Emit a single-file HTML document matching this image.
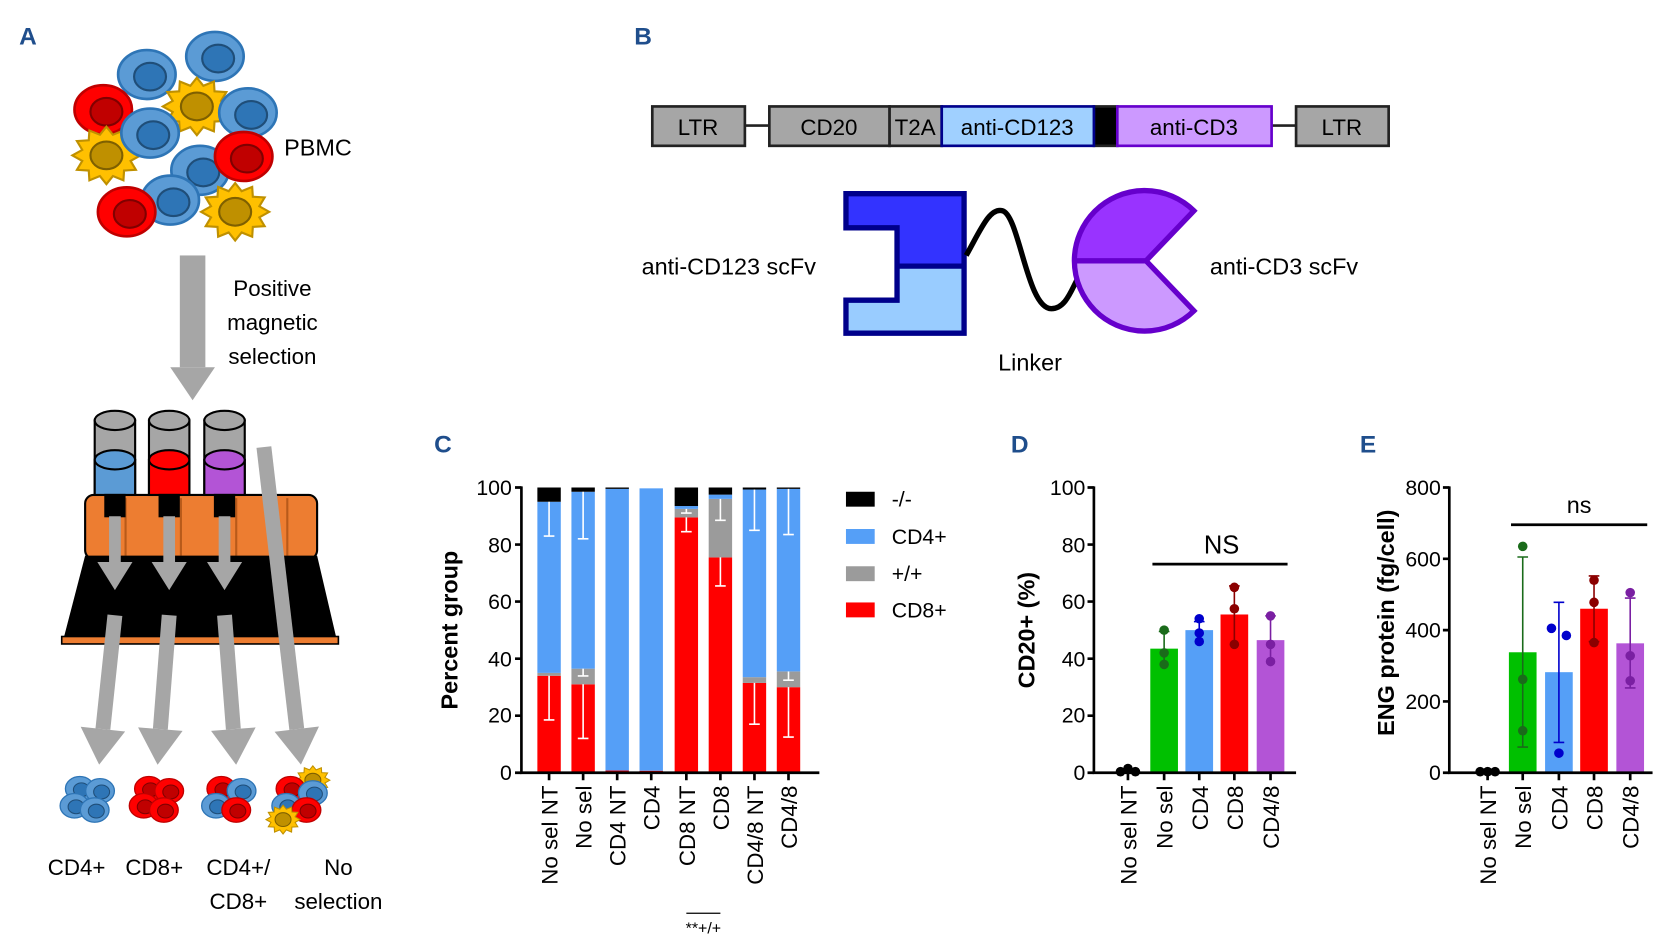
<!DOCTYPE html>
<html><head><meta charset="utf-8"><style>
html,body{margin:0;padding:0;background:#fff;}
svg{display:block;}
text{font-family:"Liberation Sans",Arial,sans-serif;}
</style></head><body>
<svg width="1660" height="942" viewBox="0 0 1560 885" preserveAspectRatio="none" xmlns="http://www.w3.org/2000/svg">
<defs>
<marker id="ah" viewBox="0 0 8 10" refX="0" refY="5" markerWidth="2.5" markerHeight="3" orient="auto"><path d="M0,0 L8,5 L0,10 z" fill="#a6a6a6"/></marker>
<g id="bc"><ellipse cx="0" cy="0" rx="27" ry="23" fill="#5b9bd5" stroke="#2e75b6" stroke-width="2.5"/><ellipse cx="3" cy="2" rx="15" ry="13" fill="#2e75b6" stroke="#1f4e79" stroke-width="2"/></g>
<g id="rc"><ellipse cx="0" cy="0" rx="27" ry="23" fill="#ff0000" stroke="#c00000" stroke-width="2.5"/><ellipse cx="3" cy="2" rx="15" ry="13" fill="#c00000" stroke="#800000" stroke-width="2"/></g>
<g id="st"><polygon points="32,0 22.7,5.2 27.7,13.5 16.6,14.2 16,23.4 6.1,19.4 0,27 -6.1,19.4 -16,23.4 -16.6,14.2 -27.7,13.5 -22.7,5.2 -32,0 -22.7,-5.2 -27.7,-13.5 -16.6,-14.2 -16,-23.4 -6.1,-19.4 0,-27 6.1,-19.4 16,-23.4 16.6,-14.2 27.7,-13.5 22.7,-5.2" fill="#ffc000" stroke="#bf9000" stroke-width="2"/><ellipse cx="0" cy="0" rx="15" ry="13" fill="#bf9000" stroke="#7f6000" stroke-width="2"/></g>
</defs>

<!-- Panel letters -->
<g font-weight="bold" font-size="23" fill="#1f4e8c">
<text x="18" y="42">A</text><text x="596" y="42">B</text><text x="408" y="425">C</text><text x="950" y="425">D</text><text x="1278" y="425">E</text>
</g>

<!-- A: PBMC -->
<use href="#bc" x="138" y="70"/><use href="#bc" x="202" y="53"/>
<use href="#st" x="185" y="100"/>
<use href="#rc" x="97" y="103"/>
<use href="#bc" x="233" y="106"/>
<use href="#st" x="100" y="146"/>
<use href="#bc" x="141" y="125"/>
<use href="#bc" x="188" y="160"/>
<use href="#rc" x="229" y="147"/>
<use href="#bc" x="160" y="188"/>
<use href="#rc" x="119" y="199"/>
<use href="#st" x="221" y="199"/>
<text x="267" y="146" font-size="22">PBMC</text>
<rect x="169" y="240" width="24" height="105" fill="#a6a6a6"/>
<polygon points="160,345 202,345 181,376" fill="#a6a6a6"/>
<g font-size="21" text-anchor="middle"><text x="256" y="278">Positive</text><text x="256" y="310">magnetic</text><text x="256" y="342">selection</text></g>

<!-- Rack -->
<rect x="80" y="465" width="218" height="60" rx="8" fill="#ed7d31" stroke="#000" stroke-width="2"/>
<g stroke="#b85a1a" stroke-width="2"><line x1="118" y1="468" x2="118" y2="522"/><line x1="170" y1="468" x2="170" y2="522"/><line x1="222" y1="468" x2="222" y2="522"/><line x1="270" y1="468" x2="270" y2="522"/></g>
<polygon points="80,522 298,522 316,599 60,599" fill="#000"/>
<rect x="58" y="598" width="260" height="7" fill="#ed7d31" stroke="#000" stroke-width="1.5"/>
<g stroke="#000" stroke-width="2">
<rect x="89" y="395" width="38" height="70" fill="#a6a6a6"/><ellipse cx="108" cy="395" rx="19" ry="9" fill="#a6a6a6"/><rect x="89" y="432" width="38" height="33" fill="#5b9bd5"/><ellipse cx="108" cy="432" rx="19" ry="9" fill="#5b9bd5"/><rect x="99" y="465" width="18" height="20" fill="#000"/>
<rect x="140" y="395" width="38" height="70" fill="#a6a6a6"/><ellipse cx="159" cy="395" rx="19" ry="9" fill="#a6a6a6"/><rect x="140" y="432" width="38" height="33" fill="#ff0000"/><ellipse cx="159" cy="432" rx="19" ry="9" fill="#ff0000"/><rect x="150" y="465" width="18" height="20" fill="#000"/>
<rect x="192" y="395" width="38" height="70" fill="#a6a6a6"/><ellipse cx="211" cy="395" rx="19" ry="9" fill="#a6a6a6"/><rect x="192" y="432" width="38" height="33" fill="#b354d6"/><ellipse cx="211" cy="432" rx="19" ry="9" fill="#b354d6"/><rect x="202" y="465" width="18" height="20" fill="#000"/>
</g>
<g stroke="#a6a6a6" stroke-width="11" marker-end="url(#ah)">
<line x1="108" y1="485" x2="108" y2="528"/><line x1="159" y1="485" x2="159" y2="528"/><line x1="211" y1="485" x2="211" y2="528"/>
</g>
<g stroke="#a6a6a6" stroke-width="14" marker-end="url(#ah)">
<line x1="108" y1="578" x2="96.7" y2="685"/><line x1="159" y1="578" x2="150.7" y2="685"/><line x1="211" y1="578" x2="219.3" y2="685"/><line x1="248" y1="420" x2="278.9" y2="685"/>
</g>
<g transform="translate(85,750) scale(0.5)"><use href="#bc" x="-20" y="-18"/><use href="#bc" x="18" y="-14"/><use href="#bc" x="-30" y="14"/><use href="#bc" x="8" y="22"/></g>
<g transform="translate(150,750) scale(0.5)"><use href="#rc" x="-20" y="-18"/><use href="#rc" x="18" y="-14"/><use href="#rc" x="-30" y="14"/><use href="#rc" x="8" y="22"/></g>
<g transform="translate(218,750) scale(0.5)"><use href="#rc" x="-20" y="-18"/><use href="#bc" x="18" y="-14"/><use href="#bc" x="-30" y="14"/><use href="#rc" x="8" y="22"/></g>
<g transform="translate(283,750) scale(0.5)"><use href="#st" x="22" y="-34"/><use href="#rc" x="-20" y="-18"/><use href="#bc" x="22" y="-10"/><use href="#bc" x="-28" y="14"/><use href="#rc" x="10" y="22"/><use href="#st" x="-34" y="40"/></g>
<g font-size="21" text-anchor="middle"><text x="72" y="822">CD4+</text><text x="145" y="822">CD8+</text><text x="224" y="822">CD4+/</text><text x="224" y="854">CD8+</text><text x="318" y="822">No</text><text x="318" y="854">selection</text></g>

<!-- B: construct -->
<g stroke="#222" stroke-width="2.5">
<line x1="700" y1="118" x2="723" y2="118"/><line x1="1195" y1="118" x2="1218" y2="118"/>
<rect x="613" y="100" width="87" height="37" fill="#a6a6a6"/>
<rect x="723" y="100" width="113" height="37" fill="#a6a6a6"/>
<rect x="836" y="100" width="49" height="37" fill="#a6a6a6"/>
<rect x="1218" y="100" width="87" height="37" fill="#a6a6a6"/>
<rect x="1028" y="100" width="22" height="37" fill="#000"/>
</g>
<rect x="885" y="100" width="143" height="37" fill="#a0d0ff" stroke="#00008b" stroke-width="2.5"/>
<rect x="1050" y="100" width="145" height="37" fill="#cc99ff" stroke="#6600cc" stroke-width="2.5"/>
<g font-size="21" text-anchor="middle"><text x="656" y="127">LTR</text><text x="779" y="127">CD20</text><text x="860" y="127">T2A</text><text x="956" y="127">anti-CD123</text><text x="1122" y="127">anti-CD3</text><text x="1261" y="127">LTR</text></g>
<polygon points="795,182 906,182 906,250 843,250 843,214 795,214" fill="#3333ff"/>
<polygon points="843,250 906,250 906,313 795,313 795,282 843,282" fill="#99ccff"/>
<polygon points="795,182 906,182 906,313 795,313 795,282 843,282 843,214 795,214" fill="none" stroke="#00008b" stroke-width="5"/>
<line x1="843" y1="250" x2="906" y2="250" stroke="#00008b" stroke-width="5"/>
<path d="M908,240 C922,215 930,195 942,198 C958,202 965,290 988,290 C1003,290 1008,268 1015,258" fill="none" stroke="#000" stroke-width="5"/>
<path d="M1077,245 L1011,245 A66,66 0 0 1 1122,198 Z" fill="#9933ff"/>
<path d="M1077,245 L1011,245 A66,66 0 0 0 1122,292 Z" fill="#cc99ff"/>
<path d="M1077,245 L1122,198 A66,66 0 1 0 1122,292 Z" fill="none" stroke="#6600cc" stroke-width="5"/>
<line x1="1011" y1="245" x2="1077" y2="245" stroke="#6600cc" stroke-width="5"/>
<g font-size="22"><text x="603" y="258">anti-CD123 scFv</text><text x="1137" y="258">anti-CD3 scFv</text><text x="968" y="348" text-anchor="middle">Linker</text></g>

<!-- C chart -->
<g>
<rect x="505" y="634.9" width="22" height="91.1" fill="#f00"/><rect x="505" y="632.2" width="22" height="2.7" fill="#9b9b9b"/><rect x="505" y="471.4" width="22" height="160.8" fill="#559ff7"/><rect x="505" y="458" width="22" height="13.4" fill="#000"/>
<rect x="537" y="642.9" width="22" height="83.1" fill="#f00"/><rect x="537" y="628.2" width="22" height="14.7" fill="#9b9b9b"/><rect x="537" y="462" width="22" height="166.2" fill="#559ff7"/><rect x="537" y="458" width="22" height="4" fill="#000"/>
<rect x="569" y="723.9" width="22" height="2.1" fill="#f00"/><rect x="569" y="459.3" width="22" height="264.6" fill="#559ff7"/><rect x="569" y="458" width="22" height="1.3" fill="#000"/>
<rect x="601" y="724.1" width="22" height="1.9" fill="#f00"/><rect x="601" y="458.8" width="22" height="265.3" fill="#559ff7"/>
<rect x="634" y="486.1" width="22" height="239.9" fill="#f00"/><rect x="634" y="478.1" width="22" height="8" fill="#9b9b9b"/><rect x="634" y="475.4" width="22" height="2.7" fill="#559ff7"/><rect x="634" y="458" width="22" height="17.4" fill="#000"/>
<rect x="666" y="523.7" width="22" height="202.3" fill="#f00"/><rect x="666" y="468.7" width="22" height="55" fill="#9b9b9b"/><rect x="666" y="464.7" width="22" height="4" fill="#559ff7"/><rect x="666" y="458" width="22" height="6.7" fill="#000"/>
<rect x="698" y="641.6" width="22" height="84.4" fill="#f00"/><rect x="698" y="636.2" width="22" height="5.4" fill="#9b9b9b"/><rect x="698" y="459.9" width="22" height="176.3" fill="#559ff7"/><rect x="698" y="458" width="22" height="1.9" fill="#000"/>
<rect x="730" y="645.6" width="22" height="80.4" fill="#f00"/><rect x="730" y="630.9" width="22" height="14.7" fill="#9b9b9b"/><rect x="730" y="459.3" width="22" height="171.5" fill="#559ff7"/><rect x="730" y="458" width="22" height="1.3" fill="#000"/>
</g>
<g stroke="#fff" stroke-width="1.5" fill="none">
<path d="M516,634.9V676.4M511,676.4h10M516,471.4V503.6M511,503.6h10"/>
<path d="M548,642.9V693.8M543,693.8h10M548,628.2V635M543,635h10M548,462V506.2M543,506.2h10"/>
<path d="M645,486.1V499.5M640,499.5h10M645,478.1V482M640,482h10"/>
<path d="M677,523.7V550.5M672,550.5h10M677,468.7V488.8M672,488.8h10"/>
<path d="M709,641.6V680.4M704,680.4h10M709,459.9V498.2M704,498.2h10"/>
<path d="M741,645.6V692.5M736,692.5h10M741,630.9V639M736,639h10M741,459.3V502.2M736,502.2h10"/>
</g>
<g stroke="#000" stroke-width="2.5" fill="none">
<path d="M490,457V726H770"/>
<path d="M484,458h6M484,511.6h6M484,565.2h6M484,618.8h6M484,672.4h6M484,726h6"/>
<path d="M516,726v7M548,726v7M580,726v7M612,726v7M645,726v7M677,726v7M709,726v7M741,726v7"/>
</g>
<g font-size="20" text-anchor="end"><text x="481" y="465">100</text><text x="481" y="519">80</text><text x="481" y="572">60</text><text x="481" y="626">40</text><text x="481" y="679">20</text><text x="481" y="733">0</text></g>
<text transform="translate(430,592) rotate(-90)" text-anchor="middle" font-size="22" font-weight="bold">Percent group</text>
<g font-size="21" text-anchor="end">
<text transform="translate(524,738) rotate(-90)">No sel NT</text><text transform="translate(556,738) rotate(-90)">No sel</text><text transform="translate(588,738) rotate(-90)">CD4 NT</text><text transform="translate(620,738) rotate(-90)">CD4</text><text transform="translate(653,738) rotate(-90)">CD8 NT</text><text transform="translate(685,738) rotate(-90)">CD8</text><text transform="translate(717,738) rotate(-90)">CD4/8 NT</text><text transform="translate(749,738) rotate(-90)">CD4/8</text>
</g>
<line x1="645" y1="858" x2="677" y2="858" stroke="#000" stroke-width="1.2"/>
<text x="661" y="877" font-size="15" text-anchor="middle">**+/+</text>
<rect x="795" y="462" width="27" height="14" fill="#000"/><rect x="795" y="497" width="27" height="14" fill="#559ff7"/><rect x="795" y="532" width="27" height="14" fill="#9b9b9b"/><rect x="795" y="566" width="27" height="14" fill="#f00"/>
<g font-size="20"><text x="838" y="476">-/-</text><text x="838" y="511">CD4+</text><text x="838" y="546">+/+</text><text x="838" y="580">CD8+</text></g>

<!-- D chart -->
<rect x="1081" y="609.4" width="26" height="116.6" fill="#00c000"/>
<rect x="1114" y="592" width="26" height="134" fill="#559ff7"/>
<rect x="1147" y="577.3" width="26" height="148.7" fill="#f00"/>
<rect x="1181" y="601.4" width="26" height="124.6" fill="#b354d6"/>
<g stroke-width="1.5" fill="none">
<path d="M1094,625.5V593.3M1089,593.3h10" stroke="#1a6b1a"/>
<path d="M1127,600V584M1122,584h10" stroke="#0000cc"/>
<path d="M1160,604V550.5M1155,550.5h10" stroke="#8b0000"/>
<path d="M1194,622.8V578.6M1189,578.6h10" stroke="#7a1fa2"/>
</g>
<g fill="#1a6b1a"><circle cx="1094" cy="592" r="4.5"/><circle cx="1094" cy="613.4" r="4.5"/><circle cx="1094" cy="624.2" r="4.5"/></g>
<g fill="#0000cc"><circle cx="1127" cy="581.3" r="4.5"/><circle cx="1127" cy="594.7" r="4.5"/><circle cx="1127" cy="602.7" r="4.5"/></g>
<g fill="#8b0000"><circle cx="1160" cy="551.8" r="4.5"/><circle cx="1160" cy="571.9" r="4.5"/><circle cx="1160" cy="605.4" r="4.5"/></g>
<g fill="#7a1fa2"><circle cx="1194" cy="578.6" r="4.5"/><circle cx="1194" cy="605.4" r="4.5"/><circle cx="1194" cy="621.5" r="4.5"/></g>
<g fill="#000"><circle cx="1053" cy="725" r="4.5"/><circle cx="1060" cy="722" r="4.5"/><circle cx="1067" cy="725" r="4.5"/></g>
<g stroke="#000" stroke-width="2.5" fill="none">
<path d="M1028,457V726H1218"/>
<path d="M1022,458h6M1022,511.6h6M1022,565.2h6M1022,618.8h6M1022,672.4h6M1022,726h6"/>
<path d="M1060,726v7M1094,726v7M1127,726v7M1160,726v7M1194,726v7"/>
<path d="M1083,530H1210"/>
</g>
<text x="1148" y="520" font-size="24" text-anchor="middle">NS</text>
<g font-size="20" text-anchor="end"><text x="1020" y="465">100</text><text x="1020" y="519">80</text><text x="1020" y="572">60</text><text x="1020" y="626">40</text><text x="1020" y="679">20</text><text x="1020" y="733">0</text></g>
<text transform="translate(972,592) rotate(-90)" text-anchor="middle" font-size="22" font-weight="bold">CD20+ (%)</text>
<g font-size="21" text-anchor="end">
<text transform="translate(1068,738) rotate(-90)">No sel NT</text><text transform="translate(1102,738) rotate(-90)">No sel</text><text transform="translate(1135,738) rotate(-90)">CD4</text><text transform="translate(1168,738) rotate(-90)">CD8</text><text transform="translate(1202,738) rotate(-90)">CD4/8</text>
</g>

<!-- E chart -->
<rect x="1418" y="612.8" width="26" height="113.2" fill="#00c000"/>
<rect x="1452" y="631.5" width="26" height="94.5" fill="#559ff7"/>
<rect x="1485" y="571.9" width="26" height="154.1" fill="#f00"/>
<rect x="1519" y="604.4" width="26" height="121.6" fill="#b354d6"/>
<g stroke-width="1.5" fill="none">
<path d="M1431,701.9V523.3M1426,523.3h10M1426,701.9h10" stroke="#1a6b1a"/>
<path d="M1465,697.5V565.9M1460,565.9h10M1460,697.5h10" stroke="#0000cc"/>
<path d="M1498,602.7V541.1M1493,541.1h10M1493,602.7h10" stroke="#8b0000"/>
<path d="M1532,646.3V561.9M1527,561.9h10M1527,646.3h10" stroke="#7a1fa2"/>
</g>
<g fill="#1a6b1a"><circle cx="1431" cy="513.3" r="4.5"/><circle cx="1431" cy="638.2" r="4.5"/><circle cx="1431" cy="686.5" r="4.5"/></g>
<g fill="#0000cc"><circle cx="1458" cy="590.3" r="4.5"/><circle cx="1472" cy="597" r="4.5"/><circle cx="1465" cy="707.6" r="4.5"/></g>
<g fill="#8b0000"><circle cx="1498" cy="545.1" r="4.5"/><circle cx="1498" cy="565.9" r="4.5"/><circle cx="1498" cy="603.7" r="4.5"/></g>
<g fill="#7a1fa2"><circle cx="1532" cy="556.8" r="4.5"/><circle cx="1532" cy="616.1" r="4.5"/><circle cx="1532" cy="639.6" r="4.5"/></g>
<g fill="#000"><circle cx="1391" cy="725" r="4.5"/><circle cx="1398" cy="725" r="4.5"/><circle cx="1405" cy="725" r="4.5"/></g>
<g stroke="#000" stroke-width="2.5" fill="none">
<path d="M1362,457V726H1553"/>
<path d="M1356,458h6M1356,525h6M1356,592h6M1356,659h6M1356,726h6"/>
<path d="M1398,726v7M1431,726v7M1465,726v7M1498,726v7M1532,726v7"/>
<path d="M1420,493H1548"/>
</g>
<text x="1484" y="482" font-size="22" text-anchor="middle">ns</text>
<g font-size="20" text-anchor="end"><text x="1354" y="465">800</text><text x="1354" y="532">600</text><text x="1354" y="599">400</text><text x="1354" y="666">200</text><text x="1354" y="733">0</text></g>
<text transform="translate(1310,585) rotate(-90)" text-anchor="middle" font-size="22" font-weight="bold">ENG protein (fg/cell)</text>
<g font-size="21" text-anchor="end">
<text transform="translate(1406,738) rotate(-90)">No sel NT</text><text transform="translate(1439,738) rotate(-90)">No sel</text><text transform="translate(1473,738) rotate(-90)">CD4</text><text transform="translate(1506,738) rotate(-90)">CD8</text><text transform="translate(1540,738) rotate(-90)">CD4/8</text>
</g>
</svg>
</body></html>
